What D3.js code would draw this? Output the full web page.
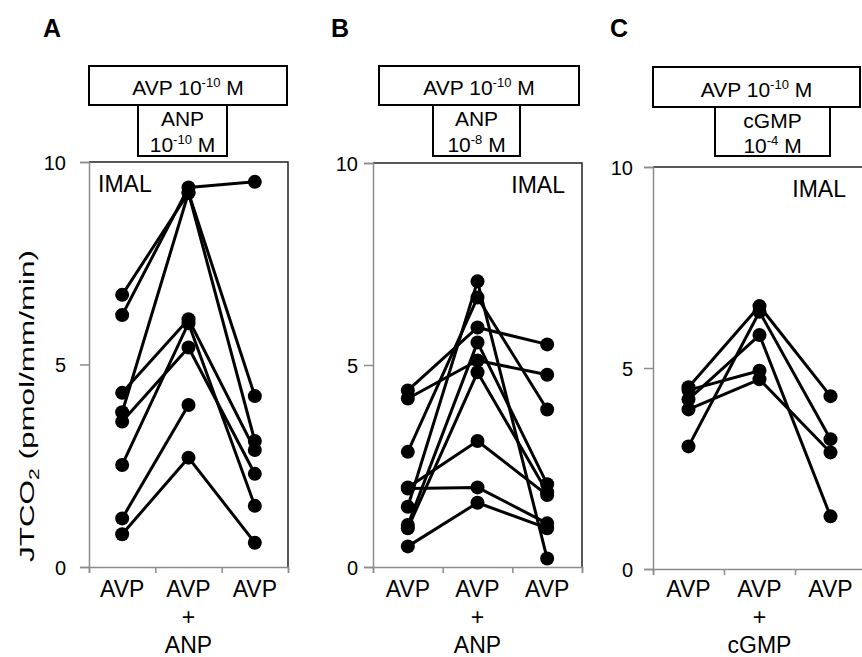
<!DOCTYPE html>
<html>
<head>
<meta charset="utf-8">
<script src="https://d3js.org/d3.v7.min.js"></script>
<style>
  body { margin: 0; background: #fff; }
  text { font-family: Arial, "Liberation Sans", sans-serif; fill: #000; white-space: pre; }
</style>
</head>
<body>
<div id="chart"></div>
<script>
// values, JTCO2 in pmol/mm/min
const yTicks = [0, 5, 10];

const ticksA = [["AVP"], ["AVP", "+", "ANP"], ["AVP"]];
const ticksB = [["AVP"], ["AVP", "+", "ANP"], ["AVP"]];
const ticksC = [["AVP"], ["AVP", "+", "cGMP"], ["AVP"]];

// one row per tubule: AVP, AVP + drug, AVP (null = not measured)
const seriesA = [
  [6.72, 9.24, 4.22],
  [6.22, 9.37, 9.51],
  [3.82, 9.24, 3.11],
  [4.30, 6.12, 2.89],
  [3.59, 5.42, 2.30],
  [2.52, 6.02, 1.51],
  [1.20, 4.00, null],
  [0.81, 2.70, 0.60]
];
const seriesB = [
  [4.37, 5.93, 5.51],
  [4.17, 5.11, 4.76],
  [2.85, 6.67, 3.90],
  [1.97, 3.12, 1.78],
  [1.94, 1.97, 1.08],
  [0.51, 1.59, 0.96],
  [1.49, 7.07, 0.21],
  [1.04, 5.56, 2.05],
  [0.96, 4.82, 1.85]
];
const seriesC = [
  [4.52, 6.54, 4.30],
  [3.05, 6.40, 3.23],
  [4.22, 5.82, 1.31],
  [4.45, 4.93, null],
  [3.97, 4.72, 2.90]
];

// header boxes: odd entries are superscripts
const headerTop = ["AVP 10", "-10", " M"];
const headerA = [["ANP"], ["10", "-10", " M"]];
const headerB = [["ANP"], ["10", "-8", " M"]];
const headerC = [["cGMP"], ["10", "-4", " M"]];

const width = 862, height = 657;

const svg = d3.select("#chart").append("svg")
  .attr("width", width)
  .attr("height", height)
  .attr("viewBox", [0, 0, width, height]);

function runs(t, parts) {
  parts.forEach((p, i) => {
    const sup = i % 2 === 1;
    t.append("tspan")
      .attr("font-size", sup ? 13 : null)
      .attr("dy", sup ? -8 : (i > 0 ? 8 : 0))
      .text(p);
  });
}

const panels = [
  {letter: "A", lx: 43, ticks: ticksA, data: seriesA, header: headerA,
   x0: 89, x1: 288, yTop: 162, yBot: 567, pad: 14,
   box1: [89, 287, 66, 105], box2: [138, 227, 105, 156], base: [95, 126, 152],
   imal: {x: 98, anchor: "start"}},
  {letter: "B", lx: 331, ticks: ticksB, data: seriesB, header: headerB,
   x0: 373, x1: 582, yTop: 163, yBot: 567, pad: 6,
   box1: [379, 579, 66, 105], box2: [433, 520, 105, 156], base: [95, 126, 152],
   imal: {x: 565, anchor: "end"}},
  {letter: "C", lx: 610, ticks: ticksC, data: seriesC, header: headerC,
   x0: 653, x1: 866, yTop: 167, yBot: 569, pad: 11,
   box1: [653, 860, 67, 107], box2: [715, 830, 107, 156], base: [97, 128, 153],
   imal: {x: 846, anchor: "end"}}
];

panels.forEach(p => {
  const n = p.ticks.length;
  const x = d3.scaleBand().domain(d3.range(n)).range([p.x0, p.x1]);
  const xb = d3.scaleLinear().domain([0, n]).range([p.x0, p.x1]);
  const y = d3.scaleLinear().domain([0, 10]).range([p.yBot, p.yTop]);
  const g = svg.append("g");

  g.append("text")
    .attr("x", p.lx).attr("y", 37)
    .attr("font-size", 25).attr("font-weight", "bold")
    .text(p.letter);

  // treatment boxes
  const [a1, b1, c1, d1] = p.box1;
  g.append("rect").attr("x", a1).attr("y", c1).attr("width", b1 - a1).attr("height", d1 - c1)
    .attr("fill", "none").attr("stroke", "#000").attr("stroke-width", 2);
  runs(g.append("text").attr("x", (a1 + b1) / 2).attr("y", p.base[0])
    .attr("text-anchor", "middle").attr("font-size", 21), headerTop);
  const [a2, b2, c2, d2] = p.box2;
  g.append("rect").attr("x", a2).attr("y", c2).attr("width", b2 - a2).attr("height", d2 - c2)
    .attr("fill", "none").attr("stroke", "#000").attr("stroke-width", 2);
  p.header.forEach((line, k) => {
    runs(g.append("text").attr("x", (a2 + b2) / 2).attr("y", p.base[k + 1])
      .attr("text-anchor", "middle").attr("font-size", 21), line);
  });

  // frame top and right
  g.append("path")
    .attr("d", `M${p.x0},${p.yTop}H${p.x1}V${p.yBot}`)
    .attr("fill", "none").attr("stroke", "#222").attr("stroke-width", 1.5);

  const ya = g.append("g")
    .attr("transform", `translate(${p.x0},0)`)
    .call(d3.axisLeft(y).tickValues(yTicks).tickSize(9).tickPadding(p.pad));
  ya.select(".domain").attr("stroke", "#8c8c8c").attr("stroke-width", 1.5);
  ya.selectAll(".tick line").attr("stroke", "#8c8c8c").attr("stroke-width", 1.5);
  ya.selectAll(".tick text").attr("font-size", 20).attr("font-family", null).attr("dy", "0.36em");

  const xa = g.append("g")
    .attr("transform", `translate(0,${p.yBot})`)
    .call(d3.axisBottom(xb).tickValues(d3.range(n + 1)).tickSize(6).tickFormat(""));
  xa.select(".domain").attr("stroke", "#8c8c8c").attr("stroke-width", 1.5);
  xa.selectAll(".tick line").attr("stroke", "#8c8c8c").attr("stroke-width", 1.5);

  p.ticks.forEach((lines, i) => {
    const t = g.append("text").attr("text-anchor", "middle").attr("font-size", 23);
    lines.forEach((s, k) => {
      t.append("tspan").attr("x", x(i) + x.bandwidth() / 2).attr("y", 597 + k * 28).text(s);
    });
  });

  g.append("text")
    .attr("x", p.imal.x).attr("y", 192 + (p.yTop - 162))
    .attr("text-anchor", p.imal.anchor).attr("font-size", 23)
    .text("IMAL");

  const cx = i => x(i) + x.bandwidth() / 2;
  const line = d3.line()
    .defined(d => d != null)
    .x((d, i) => cx(i))
    .y(d => y(d));

  g.append("g").selectAll("path").data(p.data).join("path")
    .attr("d", line)
    .attr("fill", "none").attr("stroke", "#000").attr("stroke-width", 3)
    .attr("stroke-linejoin", "round");

  g.append("g").selectAll("circle")
    .data(p.data.flatMap(row => row.map((v, i) => ({i, v}))).filter(d => d.v != null))
    .join("circle")
    .attr("cx", d => cx(d.i))
    .attr("cy", d => y(d.v))
    .attr("r", 7)
    .attr("fill", "#000");
});

// y axis title
const yt = svg.append("text")
  .attr("transform", "translate(34,406) rotate(-90)")
  .attr("text-anchor", "middle")
  .attr("font-size", 21)
  .attr("textLength", 312)
  .attr("lengthAdjust", "spacingAndGlyphs");
yt.append("tspan").text("JTCO");
yt.append("tspan").attr("font-size", 14).attr("dy", 5).text("2");
yt.append("tspan").attr("dy", -5).text(" (pmol/mm/min)");
</script>
</body>
</html>
